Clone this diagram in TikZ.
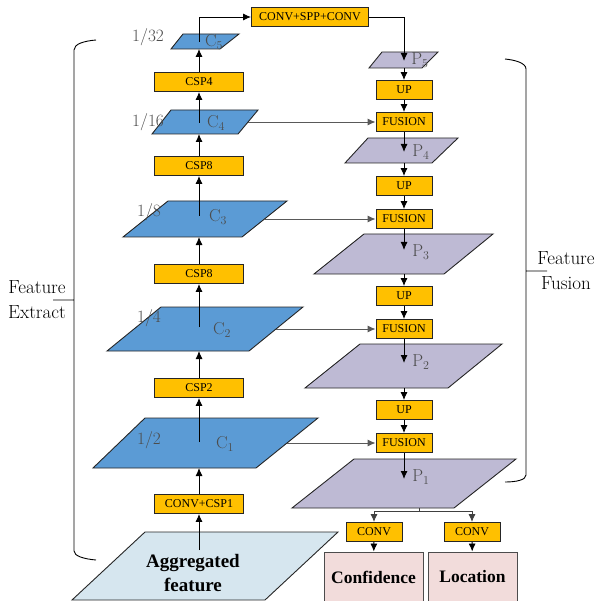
\documentclass[tikz,border=0pt]{standalone}
\usepackage{fontspec}
\newfontfamily\boxfont{Liberation Serif}
\usetikzlibrary{arrows.meta}
\definecolor{opfill}{RGB}{255,192,0}
\definecolor{cfill}{RGB}{91,155,213}
\definecolor{pfill}{RGB}{190,186,212}
\definecolor{aggfill}{RGB}{214,230,239}
\definecolor{outfill}{RGB}{242,220,219}

\begin{document}
\begin{tikzpicture}[x=1pt, y=-1pt, line width=.9pt,
  op/.style={draw=black!85, fill=opfill, minimum height=19pt, inner sep=0pt,
    font=\boxfont\fontsize{12}{14}\selectfont},
  opl/.style={op, minimum width=89pt},
  opr/.style={op, minimum width=56pt},
  cfeat/.style={draw=black!85, fill=cfill},
  pfeat/.style={draw=black!85, fill=pfill},
  lab/.style={text=black!70, font=\LARGE},
  res/.style={draw=black!70, fill=outfill, minimum height=50pt, inner sep=0pt,
    font=\boxfont\bfseries\fontsize{17.5}{20}\selectfont},
  arr/.style={-{Latex[length=8pt,width=7pt]}},
  side/.style={align=center, font=\fontsize{19}{25}\selectfont}]
  \useasboundingbox (0,0) rectangle (598,601);
  \clip (0,0) rectangle (598,601);

  % backbone planes
  \filldraw[draw=black!85, fill=aggfill] (145,532) -- (338,532) -- (265,600) -- (72,600) -- cycle;
  \filldraw[cfeat] (145,418) -- (318,418) -- (256,468) -- (93,468) -- cycle;
  \filldraw[cfeat] (161,307) -- (303,307) -- (249,351) -- (107,351) -- cycle;
  \filldraw[cfeat] (168,201) -- (287,201) -- (242,237) -- (123,237) -- cycle;
  \filldraw[cfeat] (171,110) -- (258,110) -- (238,134) -- (152,134) -- cycle;
  \filldraw[cfeat] (183,34) -- (239,34) -- (220,49) -- (171,49) -- cycle;

  % fusion planes
  \filldraw[pfeat] (382,52) -- (438,52) -- (422,68) -- (369,68) -- cycle;
  \filldraw[pfeat] (368,138) -- (458,138) -- (432,163) -- (345,163) -- cycle;
  \filldraw[pfeat] (364,234) -- (493,234) -- (444,274) -- (314,274) -- cycle;
  \filldraw[pfeat] (360,344) -- (502,344) -- (448,388) -- (305,388) -- cycle;
  \filldraw[pfeat] (354,459) -- (516,459) -- (454,508) -- (292,508) -- cycle;

  % points on the planes
  \coordinate (aggtop) at (199,550);
  \coordinate (c1) at (199,442); \coordinate (c1b) at (199,468); \coordinate (c1r) at (287,443);
  \coordinate (c2) at (199,327); \coordinate (c2b) at (199,351); \coordinate (c2r) at (276,329);
  \coordinate (c3) at (199,216); \coordinate (c3b) at (199,237); \coordinate (c3r) at (264,219);
  \coordinate (c4) at (199,123); \coordinate (c4b) at (199,134); \coordinate (c4r) at (248,122);
  \coordinate (c5) at (199,42);  \coordinate (c5b) at (199,49);
  \coordinate (p5) at (404,61);  \coordinate (p5b) at (404,68);
  \coordinate (p4) at (404,152); \coordinate (p4b) at (404,163);
  \coordinate (p3) at (404,250); \coordinate (p3b) at (404,274);
  \coordinate (p2) at (404,363); \coordinate (p2b) at (404,388);
  \coordinate (p1) at (404,479); \coordinate (p1b) at (419,508);
  \coordinate (split) at (419,511);

  % operation boxes
  \node[opl] (stem) at (199,504) {CONV+CSP1};
  \node[opl] (csp2) at (199,388) {CSP2};
  \node[opl] (csp8a) at (199,274) {CSP8};
  \node[opl] (csp8b) at (199,166) {CSP8};
  \node[opl] (csp4) at (199,82) {CSP4};
  \node[op, minimum width=117pt] (spp) at (310,17) {CONV+SPP+CONV};
  \node[opr] (up4) at (404,90) {UP};
  \node[opr] (fu4) at (404,122) {FUSION};
  \node[opr] (up3) at (404,186) {UP};
  \node[opr] (fu3) at (404,219) {FUSION};
  \node[opr] (up2) at (404,296) {UP};
  \node[opr] (fu2) at (404,329) {FUSION};
  \node[opr] (up1) at (404,410) {UP};
  \node[opr] (fu1) at (404,443) {FUSION};
  \node[opr] (cv1) at (374,532) {CONV};
  \node[opr] (cv2) at (472,532) {CONV};
  \node[res, minimum width=99pt] (conf) at (373.5,577) {Confidence};
  \node[res, minimum width=89pt] (loc) at (472.5,577) {Location};
  \node[align=center, font=\boxfont\bfseries\fontsize{19}{24}\selectfont] (agg) at (193,573) {Aggregated\\feature};

  % backbone path
  \draw[arr] (aggtop) -- (stem);
  \draw[arr] (stem) -- (c1b);
  \draw[arr] (c1) -- (csp2);
  \draw[arr] (csp2) -- (c2b);
  \draw[arr] (c2) -- (csp8a);
  \draw[arr] (csp8a) -- (c3b);
  \draw[arr] (c3) -- (csp8b);
  \draw[arr] (csp8b) -- (c4b);
  \draw[arr] (c4) -- (csp4);
  \draw[arr] (csp4) -- (c5b);
  \draw[arr] (c5) |- (spp);
  \draw[arr] (spp) -| (p5);

  % fusion path
  \draw[arr] (p5b) -- (up4);
  \draw[arr] (up4) -- (fu4);
  \draw[arr] (fu4) -- (p4);
  \draw[arr] (p4b) -- (up3);
  \draw[arr] (up3) -- (fu3);
  \draw[arr] (fu3) -- (p3);
  \draw[arr] (p3b) -- (up2);
  \draw[arr] (up2) -- (fu2);
  \draw[arr] (fu2) -- (p2);
  \draw[arr] (p2b) -- (up1);
  \draw[arr] (up1) -- (fu1);
  \draw[arr] (fu1) -- (p1);
  \draw[arr, draw=black!65] (c4r) -- (fu4);
  \draw[arr, draw=black!65] (c3r) -- (fu3);
  \draw[arr, draw=black!65] (c2r) -- (fu2);
  \draw[arr, draw=black!65] (c1r) -- (fu1);

  % heads
  \draw[draw=black!75] (p1b) -- (split);
  \draw[arr, draw=black!75] (split) -| (cv1);
  \draw[arr, draw=black!75] (split) -| (cv2);
  \draw[arr] (cv1) -- (conf);
  \draw[arr] (cv2) -- (loc);

  % plane labels
  \node[lab] (lc5) at (214,42) {C$_5$};
  \node[lab] (lc4) at (216,123) {C$_4$};
  \node[lab] (lc3) at (218,217) {C$_3$};
  \node[lab] (lc2) at (222,330) {C$_2$};
  \node[lab] (lc1) at (225,444) {C$_1$};
  \node[lab] (lp5) at (420,60) {P$_5$};
  \node[lab] (lp4) at (421,152) {P$_4$};
  \node[lab] (lp3) at (421,252) {P$_3$};
  \node[lab] (lp2) at (421,362) {P$_2$};
  \node[lab] (lp1) at (421,477) {P$_1$};
  \node[lab] (r32) at (148,37) {1/32};
  \node[lab] (r16) at (148,122) {1/16};
  \node[lab] (r8) at (149,212) {1/8};
  \node[lab] (r4) at (149,318) {1/4};
  \node[lab] (r2) at (149,440) {1/2};

  % braces
  \draw (96,40) .. controls (84,41) and (74,44) .. (74,50) -- (74,551)
    .. controls (74,556) and (84,559) .. (96,560) (53,300) -- (74,300);
  \draw (505,59) .. controls (515,60) and (526,63) .. (526,69) -- (526,475)
    .. controls (526,480) and (516,482) .. (505,482) (526,271) -- (547,271);
  \node[side] (fext) at (37,300) {Feature\\Extract};
  \node[side] (ffus) at (566,271) {Feature\\Fusion};
\end{tikzpicture}
\end{document}
